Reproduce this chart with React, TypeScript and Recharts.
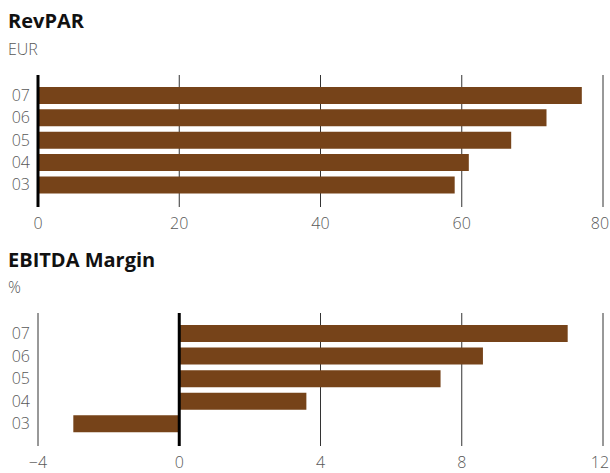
import {
  BarChart,
  Bar,
  XAxis,
  YAxis,
  CartesianGrid,
  ReferenceLine,
} from 'recharts';

const years = ['07', '06', '05', '04', '03'];
const revpar = [77, 72, 67, 61, 59];
const ebitdaMargin = [11, 8.6, 7.4, 3.6, -3];
const revparTicks = [0, 20, 40, 60, 80];
const marginTicks = [-4, 0, 4, 8, 12];

const revparData = years.map((year, i) => ({ year, value: revpar[i] }));
const marginData = years.map((year, i) => ({ year, value: ebitdaMargin[i] }));

const FONT = '"Open Sans", sans-serif';
const BAR = '#764319';
const GRID = '#333';
const TICK_COLOR = '#585858';
const TICK = { fontSize: 16, fill: TICK_COLOR, fontFamily: FONT, fontWeight: 300 };

const fmt = (v: number) => (v < 0 ? `\u2212${Math.abs(v)}` : `${v}`);

// keeps the last value label inside the page edge
function XTick(props: any) {
  const { x, y, payload } = props;
  const nx = x > 600 ? 600 : x;
  return (
    <text
      x={nx}
      y={y}
      dy="0.71em"
      textAnchor="middle"
      fontSize={16}
      fontFamily={FONT}
      fontWeight={300}
      fill={TICK_COLOR}
    >
      {fmt(payload.value)}
    </text>
  );
}

const titleStyle: React.CSSProperties = {
  position: 'absolute',
  left: 8,
  fontFamily: FONT,
  fontWeight: 700,
  fontSize: 20,
  lineHeight: 1,
  color: '#111',
  whiteSpace: 'nowrap',
};

const unitStyle: React.CSSProperties = {
  position: 'absolute',
  left: 8,
  fontFamily: FONT,
  fontWeight: 300,
  fontSize: 16,
  lineHeight: 1,
  color: TICK_COLOR,
};

interface PanelProps {
  data: { year: string; value: number }[];
  ticks: number[];
  top: number;
  height: number;
  marginTop: number;
  axisHeight: number;
}

function Panel({ data, ticks, top, height, marginTop, axisHeight }: PanelProps) {
  return (
    <div style={{ position: 'absolute', left: 0, top }}>
      <BarChart
        width={610}
        height={height}
        data={data}
        layout="vertical"
        margin={{ top: marginTop, right: 7, bottom: 0, left: 0 }}
        barCategoryGap="13%"
      >
        <CartesianGrid horizontal={false} stroke={GRID} strokeWidth={1} />
        <XAxis
          type="number"
          domain={[ticks[0], ticks[ticks.length - 1]]}
          ticks={ticks}
          axisLine={false}
          tickLine={false}
          tickSize={0}
          tickMargin={11}
          height={axisHeight}
          tick={<XTick />}
          interval={0}
        />
        <YAxis
          type="category"
          dataKey="year"
          width={38}
          axisLine={false}
          tickLine={false}
          tickSize={0}
          tickMargin={8}
          padding={{ top: 9, bottom: 11 }}
          tick={TICK}
          interval={0}
        />
        <Bar dataKey="value" fill={BAR} isAnimationActive={false} />
        <ReferenceLine x={0} stroke="#000" strokeWidth={3} />
      </BarChart>
    </div>
  );
}

export default function App() {
  return (
    <div style={{ position: 'absolute', left: 0, top: 0, width: 610, height: 473, background: '#fff' }}>
      <div style={{ ...titleStyle, top: 11 }}>RevPAR</div>
      <div style={{ ...unitStyle, top: 41 }}>EUR</div>
      <Panel data={revparData} ticks={revparTicks} top={0} height={240} marginTop={75} axisHeight={33} />
      <div style={{ ...titleStyle, top: 250 }}>EBITDA Margin</div>
      <div style={{ ...unitStyle, top: 279 }}>%</div>
      <Panel data={marginData} ticks={marginTicks} top={240} height={233} marginTop={73} axisHeight={27} />
    </div>
  );
}
